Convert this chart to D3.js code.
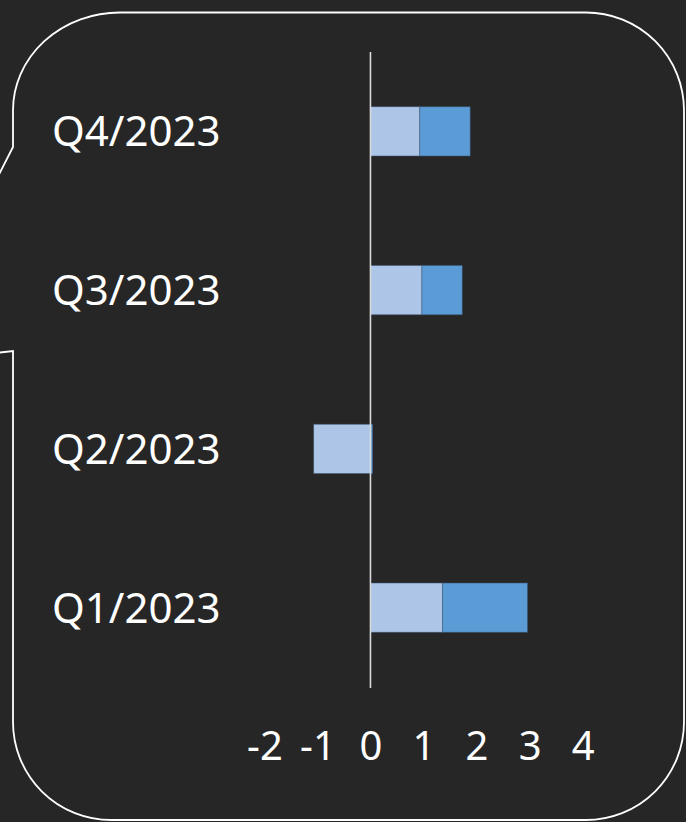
<!DOCTYPE html>
<html>
<head>
<meta charset="utf-8">
<script src="https://cdn.jsdelivr.net/npm/d3@7"></script>
<style>
  html, body { margin: 0; padding: 0; background: #262626; }
  svg { display: block; }
</style>
</head>
<body>
<script>
// Data (top-to-bottom order as shown)
const categories = ["Q4/2023", "Q3/2023", "Q2/2023", "Q1/2023"];
const series1 = [0.93, 0.97, -1.07, 1.36];   // light blue
const series2 = [0.95, 0.76, 0.04, 1.60];    // darker blue
const tickValues = [-2, -1, 0, 1, 2, 3, 4];
const seriesKeys = ["s1", "s2"];
const seriesColors = ["#adc6e7", "#5b9bd6"];

const W = 686, H = 822;
const svg = d3.select("body").append("svg").attr("width", W).attr("height", H);

svg.append("rect").attr("width", W).attr("height", H).attr("fill", "#262626");

// Callout outline
svg.append("path")
  .attr("d", "M 120 12.5 H 586 A 98 98 0 0 1 684 110.5 V 722 A 98 98 0 0 1 586 820 H 111 A 98 98 0 0 1 13 722 V 351 L -98 364 L 13 147 V 110.5 A 107 98 0 0 1 120 12.5 Z")
  .attr("fill", "none")
  .attr("stroke", "#ffffff")
  .attr("stroke-width", 1.8);

const x = d3.scaleLinear().domain([-2, 4]).range([264.4, 582.6]);
const y = d3.scaleBand().domain(categories).range([52, 687]).paddingInner(0.69).paddingOuter(0.345);

const rows = categories.map((c, i) => ({ cat: c, s1: series1[i], s2: series2[i] }));
const stacked = d3.stack().keys(seriesKeys).offset(d3.stackOffsetDiverging)(rows);

stacked.forEach((layer, li) => {
  svg.append("g").selectAll("rect")
    .data(layer)
    .join("rect")
    .attr("x", d => x(Math.min(d[0], d[1])))
    .attr("width", d => Math.abs(x(d[1]) - x(d[0])))
    .attr("y", d => y(d.data.cat))
    .attr("height", y.bandwidth())
    .attr("fill", seriesColors[li])
    .attr("stroke", "#3f5a78")
    .attr("stroke-opacity", 0.6)
    .attr("stroke-width", 0.8);
});

// Zero (category) axis line
svg.append("line")
  .attr("x1", x(0)).attr("x2", x(0))
  .attr("y1", 52).attr("y2", 688)
  .attr("stroke", "#d9d9d9")
  .attr("stroke-width", 1.6);

// Category labels
svg.append("g").selectAll("text")
  .data(categories)
  .join("text")
  .attr("x", 52)
  .attr("y", d => y(d) + y.bandwidth() / 2)
  .attr("dy", "0.36em")
  .attr("fill", "#ffffff")
  .style("font-family", "'Noto Sans', sans-serif")
  .style("font-size", "42px")
  .text(d => d);

// Value axis labels
const xAxis = d3.axisBottom(x).tickValues(tickValues).tickSize(0).tickPadding(0).tickFormat(d3.format("d"));
const gx = svg.append("g").attr("transform", "translate(0,731)").call(xAxis);
gx.select(".domain").remove();
gx.selectAll("text")
  .attr("fill", "#ffffff")
  .attr("dy", "0.72em")
  .style("font-family", "'Noto Sans', sans-serif")
  .style("font-size", "40px")
  .text(d => d < 0 ? "-" + Math.abs(d) : String(d));
</script>
</body>
</html>
